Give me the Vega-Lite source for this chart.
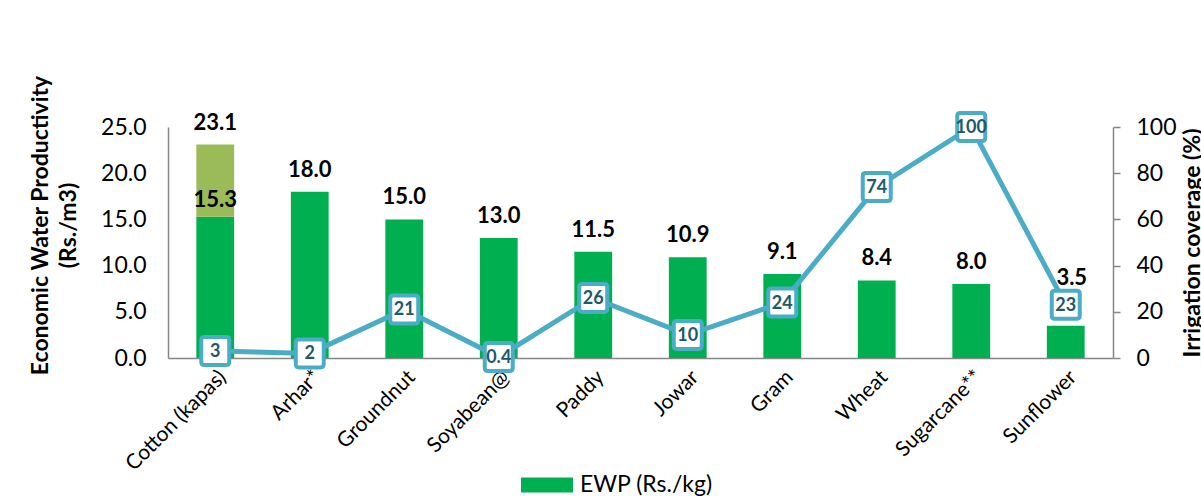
{
  "$schema": "https://vega.github.io/schema/vega-lite/v6.json",
  "width": 945,
  "height": 231,
  "autosize": "none",
  "padding": {"left": 168, "top": 127, "right": 88, "bottom": 138},
  "background": "white",
  "config": {"font": "Lato", "view": {"stroke": null}, "axis": {"grid": false}},
  "data": {
    "values": [
      {"crop": "Cotton (kapas)", "ewp": 15.3, "top": 23.1, "total": 23.1, "irr": 3},
      {"crop": "Arhar*", "ewp": 18.0, "top": 0, "total": 18.0, "irr": 2},
      {"crop": "Groundnut", "ewp": 15.0, "top": 0, "total": 15.0, "irr": 21},
      {"crop": "Soyabean@", "ewp": 13.0, "top": 0, "total": 13.0, "irr": 0.4},
      {"crop": "Paddy", "ewp": 11.5, "top": 0, "total": 11.5, "irr": 26},
      {"crop": "Jowar", "ewp": 10.9, "top": 0, "total": 10.9, "irr": 10},
      {"crop": "Gram", "ewp": 9.1, "top": 0, "total": 9.1, "irr": 24},
      {"crop": "Wheat", "ewp": 8.4, "top": 0, "total": 8.4, "irr": 74},
      {"crop": "Sugarcane**", "ewp": 8.0, "top": 0, "total": 8.0, "irr": 100},
      {"crop": "Sunflower", "ewp": 3.5, "top": 0, "total": 3.5, "irr": 23}
    ]
  },
  "encoding": {
    "x": {
      "field": "crop",
      "type": "nominal",
      "sort": null,
      "scale": {"paddingInner": 0.6, "paddingOuter": 0.3},
      "axis": {
        "title": null,
        "labelAngle": -45,
        "labelFontSize": 21,
        "labelColor": "#000000",
        "labelPadding": 8,
        "ticks": false,
        "domainColor": "#868686",
        "domainWidth": 1.5
      }
    }
  },
  "layer": [
    {
      "layer": [
        {
          "mark": {"type": "bar"},
          "encoding": {
            "y": {
              "field": "ewp",
              "type": "quantitative",
              "scale": {"domain": [0, 25], "nice": false},
              "axis": {
                "orient": "left",
                "values": [0, 5, 10, 15, 20, 25],
                "format": ".1f",
                "labelFontSize": 23,
                "labelColor": "#000000",
                "labelPadding": 22,
                "ticks": false,
                "domainColor": "#868686",
                "domainWidth": 1.5,
                "title": ["Economic Water Productivity", "(Rs./m3)"],
                "titleFontSize": 23,
                "titleFontWeight": "bold",
                "titleColor": "#000000",
                "titleLineHeight": 28,
                "titlePadding": 20,
                "titleY": 98
              }
            },
            "color": {
              "datum": "EWP (Rs./kg)",
              "scale": {"domain": ["EWP (Rs./kg)"], "range": ["#00b050"]},
              "legend": {
                "orient": "none",
                "legendX": 353,
                "legendY": 332,
                "title": null,
                "symbolType": "M-1,-0.29L1,-0.29L1,0.29L-1,0.29Z",
                "symbolSize": 2704,
                "symbolStrokeWidth": 0,
                "labelFontSize": 23,
                "labelColor": "#000000",
                "labelOffset": 7
              }
            }
          }
        },
        {
          "transform": [{"filter": "datum.top > 0"}],
          "mark": {"type": "bar", "color": "#9bbb59"},
          "encoding": {
            "y": {"field": "top", "type": "quantitative", "title": ["Economic Water Productivity", "(Rs./m3)"]},
            "y2": {"field": "ewp"}
          }
        },
        {
          "transform": [{"filter": "datum.crop !== 'Sunflower'"}],
          "mark": {"type": "text", "fontSize": 22, "fontWeight": "bold", "color": "#000000", "baseline": "alphabetic", "dy": -15},
          "encoding": {
            "y": {"field": "total", "type": "quantitative", "title": ["Economic Water Productivity", "(Rs./m3)"]},
            "text": {"field": "total", "type": "quantitative", "format": ".1f"}
          }
        },
        {
          "transform": [{"filter": "datum.crop === 'Sunflower'"}],
          "mark": {"type": "text", "fontSize": 22, "fontWeight": "bold", "color": "#000000", "baseline": "alphabetic", "dy": -41, "dx": 6},
          "encoding": {
            "y": {"field": "total", "type": "quantitative", "title": ["Economic Water Productivity", "(Rs./m3)"]},
            "text": {"field": "total", "type": "quantitative", "format": ".1f"}
          }
        },
        {
          "transform": [{"filter": "datum.top > 0"}],
          "mark": {"type": "text", "fontSize": 22, "fontWeight": "bold", "color": "#000000", "baseline": "alphabetic", "dy": -10},
          "encoding": {
            "y": {"field": "ewp", "type": "quantitative", "title": ["Economic Water Productivity", "(Rs./m3)"]},
            "text": {"field": "ewp", "type": "quantitative", "format": ".1f"}
          }
        }
      ]
    },
    {
      "layer": [
        {
          "mark": {"type": "line", "color": "#4bacc6", "strokeWidth": 5},
          "encoding": {
            "y": {
              "field": "irr",
              "type": "quantitative",
              "scale": {"domain": [0, 100], "nice": false},
              "axis": {
                "orient": "right",
                "values": [0, 20, 40, 60, 80, 100],
                "labelFontSize": 23,
                "labelColor": "#000000",
                "labelPadding": 16,
                "ticks": true,
                "tickSize": 7,
                "tickColor": "#868686",
                "tickWidth": 1.5,
                "domainColor": "#868686",
                "domainWidth": 1.5,
                "title": "Irrigation coverage (%)",
                "titleFontSize": 23,
                "titleFontWeight": "bold",
                "titleColor": "#000000",
                "titleAngle": 270,
                "titleBaseline": "top",
                "titlePadding": 5
              }
            }
          }
        },
        {
          "mark": {
            "type": "point",
            "shape": "M-0.78,-1L0.78,-1Q1,-1 1,-0.78L1,0.78Q1,1 0.78,1L-0.78,1Q-1,1 -1,0.78L-1,-0.78Q-1,-1 -0.78,-1Z",
            "size": 784,
            "filled": true,
            "fill": "#ffffff",
            "stroke": "#4bacc6",
            "strokeWidth": 4,
            "opacity": 1
          },
          "encoding": {
            "y": {"field": "irr", "type": "quantitative", "title": "Irrigation coverage (%)"}
          }
        },
        {
          "mark": {"type": "text", "fontSize": 18, "fontWeight": "bold", "color": "#215968", "baseline": "middle", "dy": 1},
          "encoding": {
            "y": {"field": "irr", "type": "quantitative", "title": "Irrigation coverage (%)"},
            "text": {"field": "irr", "type": "quantitative", "format": "~g"}
          }
        }
      ]
    }
  ],
  "resolve": {"scale": {"y": "independent"}}
}
